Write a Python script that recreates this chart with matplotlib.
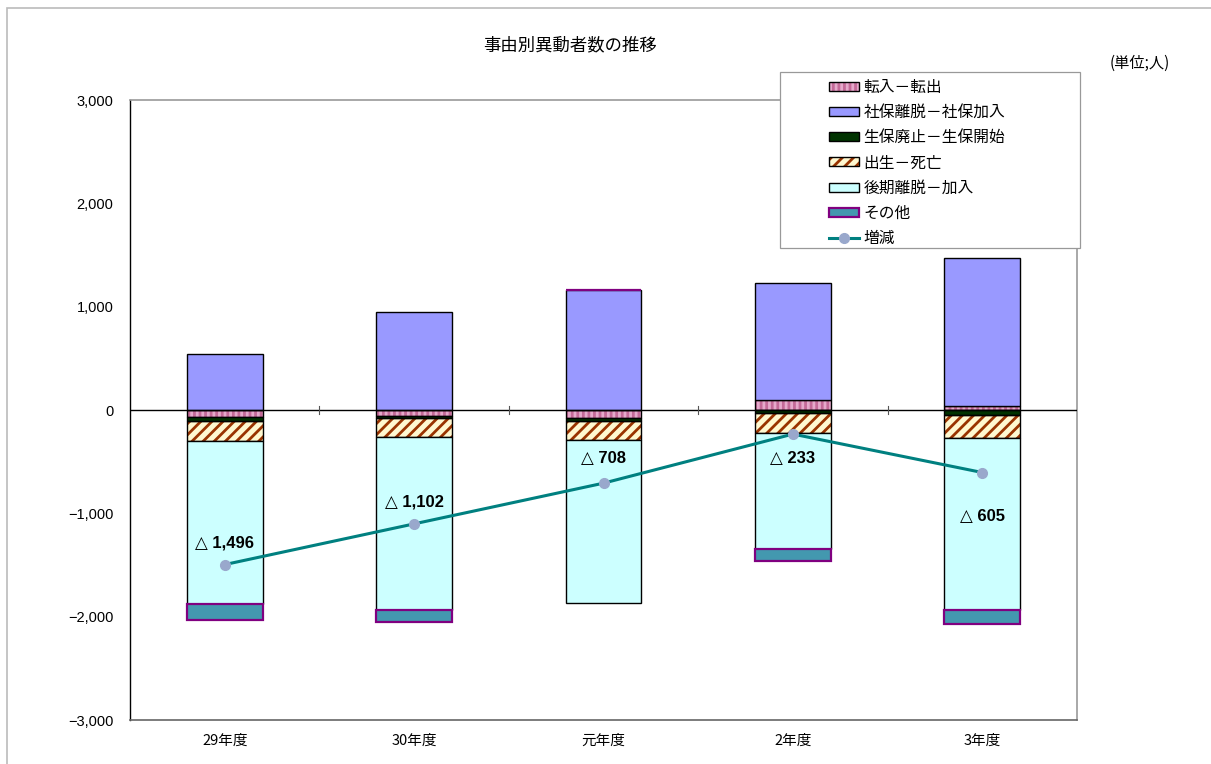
import matplotlib
matplotlib.use("Agg")
import matplotlib.pyplot as plt
import numpy as np
from matplotlib.patches import Patch, Rectangle
from matplotlib.lines import Line2D
from matplotlib.legend_handler import HandlerTuple
from matplotlib.ticker import FuncFormatter

plt.rcParams['font.family'] = ['Noto Sans CJK JP', 'DejaVu Sans']
plt.rcParams['hatch.linewidth'] = 2.0
NUM_FONT = ['Liberation Sans', 'DejaVu Sans', 'Noto Sans CJK JP']

categories = ['29年度', '30年度', '元年度', '2年度', '3年度']
tennyu = [-65, -55, -77, 97, 40]          # 転入－転出
shaho = [540, 950, 1160, 1130, 1428]      # 社保離脱－社保加入
seiho = [-40, -20, -25, -25, -48]         # 生保廃止－生保開始
shussei = [-195, -185, -185, -200, -223]  # 出生－死亡
kouki = [-1580, -1672, -1581, -1120, -1667]  # 後期離脱－加入
sonota = [-156, -120, 0, -115, -135]      # その他
zougen = [-1496, -1102, -708, -233, -605]  # 増減
zougen_labels = ['△ 1,496', '△ 1,102', '△ 708', '△ 233', '△ 605']
label_offsets_px = [22, 22, 25, -24, -44]

series = [
    ('転入－転出', tennyu, dict(face='#C46A98', hatch='|||', hcol='#E6A9CB', edge='black', lw=1.0)),
    ('社保離脱－社保加入', shaho, dict(face='#9999FF', hatch=None, hcol=None, edge='black', lw=1.0)),
    ('生保廃止－生保開始', seiho, dict(face='#003300', hatch=None, hcol=None, edge='black', lw=1.0)),
    ('出生－死亡', shussei, dict(face='#FFF8D0', hatch='///', hcol='#993300', edge='black', lw=1.0)),
    ('後期離脱－加入', kouki, dict(face='#CCFFFF', hatch=None, hcol=None, edge='black', lw=1.0)),
    ('その他', sonota, dict(face='#4398AF', hatch=None, hcol=None, edge='#800080', lw=1.6)),
]

fig = plt.figure(figsize=(12.11, 7.64), dpi=100)
ax = fig.add_axes([130/1211, (764-720)/764, 947/1211, 620/764])

x = np.arange(len(categories))
width = 0.4
pos_base = np.zeros(len(categories))
neg_base = np.zeros(len(categories))
handles = []
for name, vals, st in series:
    vals = np.array(vals, dtype=float)
    bottoms = np.where(vals >= 0, pos_base, neg_base)
    if st['hatch']:
        ax.bar(x, vals, width, bottom=bottoms, color=st['face'], hatch=st['hatch'],
               edgecolor=st['hcol'], linewidth=0, zorder=2)
        ax.bar(x, vals, width, bottom=bottoms, facecolor='none',
               edgecolor=st['edge'], linewidth=st['lw'], zorder=3)
        h = (Patch(facecolor=st['face'], hatch=st['hatch'], edgecolor=st['hcol'], linewidth=0),
             Patch(facecolor='none', edgecolor=st['edge'], linewidth=st['lw']))
    else:
        ax.bar(x, vals, width, bottom=bottoms, color=st['face'],
               edgecolor=st['edge'], linewidth=st['lw'], zorder=3)
        h = Patch(facecolor=st['face'], edgecolor=st['edge'], linewidth=st['lw'])
    handles.append((h, name))
    pos_base = pos_base + np.where(vals >= 0, vals, 0)
    neg_base = neg_base + np.where(vals < 0, vals, 0)

ax.axhline(0, color='black', linewidth=1.0, zorder=4)
for b in x[:-1] + 0.5:
    ax.plot([b, b], [-35, 35], color='#555555', linewidth=0.8, zorder=4)

ax.plot(x, zougen, color='#008080', linewidth=2.2, marker='o', markersize=7,
        markerfacecolor='#99A8CC', markeredgecolor='#99A8CC', zorder=5)
line_handle = Line2D([], [], color='#008080', linewidth=2.2, marker='o', markersize=7,
                     markerfacecolor='#99A8CC', markeredgecolor='#99A8CC')
handles.append((line_handle, '増減'))

for xi, yi, lab, off in zip(x, zougen, zougen_labels, label_offsets_px):
    ax.annotate(lab, (xi, yi), xytext=(0, off), textcoords='offset pixels',
                ha='center', va='center', fontsize=12, fontweight='bold',
                family=NUM_FONT, zorder=6)

ax.set_xlim(-0.5, len(categories) - 0.5)
ax.set_ylim(-3000, 3000)
ax.set_yticks(np.arange(-3000, 3001, 1000))
ax.yaxis.set_major_formatter(FuncFormatter(lambda v, p: f'{int(v):,}'.replace('-', '−')))
ax.tick_params(axis='y', length=0, pad=12, labelsize=10.5)
for t in ax.get_yticklabels():
    t.set_family(NUM_FONT)
ax.set_xticks(x)
ax.set_xticklabels(categories)
ax.tick_params(axis='x', length=0, pad=10, labelsize=10.5)

for s in ['top', 'right']:
    ax.spines[s].set_color('#999999')
    ax.spines[s].set_linewidth(1.2)
ax.spines['left'].set_color('black')
ax.spines['bottom'].set_color('#666666')
ax.spines['left'].set_linewidth(1.0)
ax.spines['bottom'].set_linewidth(1.2)

# legend box frame
fig.patches.append(Rectangle((780/1211, 1 - 248/764), 300/1211, 176/764, transform=fig.transFigure,
                             facecolor='white', edgecolor='#999999', linewidth=0.9, zorder=9))
leg = fig.legend([h for h, n in handles], [n for h, n in handles],
                 handler_map={tuple: HandlerTuple(ndivide=1, pad=0)},
                 loc='upper left', bbox_to_anchor=(829/1211, 1 - 79/764),
                 frameon=False, fontsize=11.3,
                 handlelength=1.9, handleheight=0.5, handletextpad=0.3,
                 labelspacing=0.52, borderpad=0.0, borderaxespad=0)
leg.set_zorder(10)

fig.text(570/1211, 1 - 45/764, '事由別異動者数の推移', ha='center', va='center', fontsize=12.5)
fig.text(1140/1211, 1 - 63/764, '(単位;人)', ha='center', va='center', fontsize=11)

fig.patches.append(Rectangle((7/1211, -0.1), 1.2, 1.1 - 8/764, transform=fig.transFigure,
                             fill=False, edgecolor='#BBBBBB', linewidth=1.2))

fig.savefig('out.png', dpi=100)
